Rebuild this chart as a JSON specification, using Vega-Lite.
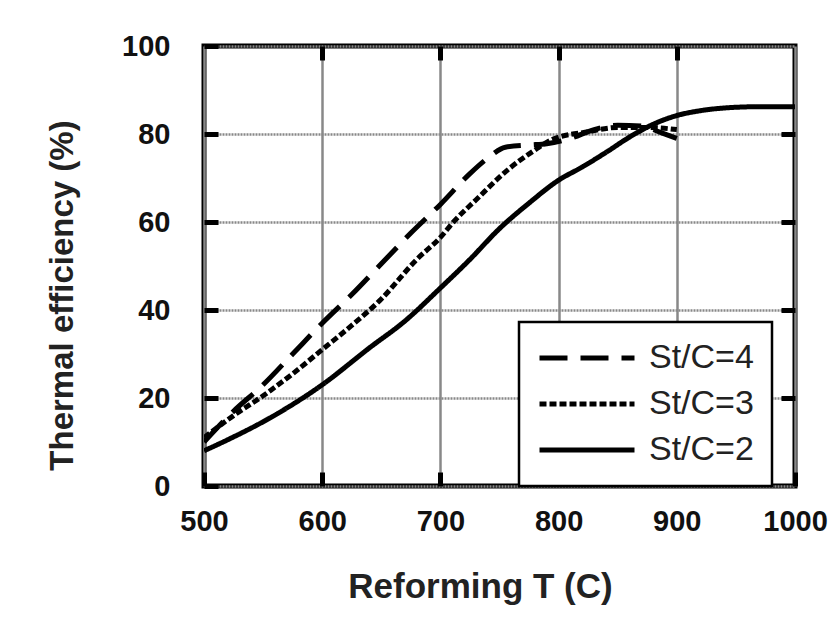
{
  "$schema": "https://vega.github.io/schema/vega-lite/v6.json",
  "width": 591,
  "height": 440,
  "autosize": {"type": "none"},
  "padding": {"left": 204, "top": 46, "right": 44, "bottom": 138},
  "background": "white",
  "data": {
    "values": [
      {"series": "St/C=4", "T": 500, "eff": 10},
      {"series": "St/C=4", "T": 525, "eff": 17},
      {"series": "St/C=4", "T": 550, "eff": 23},
      {"series": "St/C=4", "T": 575, "eff": 30},
      {"series": "St/C=4", "T": 600, "eff": 37},
      {"series": "St/C=4", "T": 625, "eff": 43.5},
      {"series": "St/C=4", "T": 650, "eff": 50.5},
      {"series": "St/C=4", "T": 675, "eff": 57.5},
      {"series": "St/C=4", "T": 700, "eff": 64},
      {"series": "St/C=4", "T": 725, "eff": 71},
      {"series": "St/C=4", "T": 740, "eff": 74.5},
      {"series": "St/C=4", "T": 755, "eff": 77},
      {"series": "St/C=4", "T": 775, "eff": 77.5},
      {"series": "St/C=4", "T": 790, "eff": 77.8},
      {"series": "St/C=4", "T": 810, "eff": 79},
      {"series": "St/C=4", "T": 830, "eff": 81},
      {"series": "St/C=4", "T": 850, "eff": 82},
      {"series": "St/C=4", "T": 870, "eff": 81.8},
      {"series": "St/C=4", "T": 885, "eff": 80.5},
      {"series": "St/C=4", "T": 900, "eff": 79},
      {"series": "St/C=3", "T": 500, "eff": 11},
      {"series": "St/C=3", "T": 525, "eff": 16},
      {"series": "St/C=3", "T": 550, "eff": 20.5},
      {"series": "St/C=3", "T": 575, "eff": 25.5},
      {"series": "St/C=3", "T": 600, "eff": 31},
      {"series": "St/C=3", "T": 625, "eff": 36.5},
      {"series": "St/C=3", "T": 650, "eff": 42.5},
      {"series": "St/C=3", "T": 680, "eff": 51.5},
      {"series": "St/C=3", "T": 700, "eff": 56.5},
      {"series": "St/C=3", "T": 711, "eff": 60},
      {"series": "St/C=3", "T": 730, "eff": 65},
      {"series": "St/C=3", "T": 759, "eff": 72.3},
      {"series": "St/C=3", "T": 778, "eff": 76},
      {"series": "St/C=3", "T": 795, "eff": 78.8},
      {"series": "St/C=3", "T": 825, "eff": 80.5},
      {"series": "St/C=3", "T": 850, "eff": 81.5},
      {"series": "St/C=3", "T": 875, "eff": 81.5},
      {"series": "St/C=3", "T": 900, "eff": 81},
      {"series": "St/C=2", "T": 500, "eff": 8},
      {"series": "St/C=2", "T": 520, "eff": 10.5},
      {"series": "St/C=2", "T": 556, "eff": 15.5},
      {"series": "St/C=2", "T": 600, "eff": 23},
      {"series": "St/C=2", "T": 640, "eff": 31.4},
      {"series": "St/C=2", "T": 670, "eff": 37.5},
      {"series": "St/C=2", "T": 700, "eff": 45},
      {"series": "St/C=2", "T": 725, "eff": 51.5},
      {"series": "St/C=2", "T": 750, "eff": 58.5},
      {"series": "St/C=2", "T": 775, "eff": 64.3},
      {"series": "St/C=2", "T": 800, "eff": 69.5},
      {"series": "St/C=2", "T": 820, "eff": 72.5},
      {"series": "St/C=2", "T": 840, "eff": 75.8},
      {"series": "St/C=2", "T": 860, "eff": 79.3},
      {"series": "St/C=2", "T": 880, "eff": 82.2},
      {"series": "St/C=2", "T": 900, "eff": 84.2},
      {"series": "St/C=2", "T": 920, "eff": 85.3},
      {"series": "St/C=2", "T": 945, "eff": 86},
      {"series": "St/C=2", "T": 970, "eff": 86.2},
      {"series": "St/C=2", "T": 1000, "eff": 86.2}
    ]
  },
  "layer": [
    {
      "mark": {"type": "line", "interpolate": "monotone", "strokeWidth": 5, "color": "black", "clip": true},
      "encoding": {
        "x": {
          "field": "T", "type": "quantitative",
          "scale": {"domain": [500, 1000], "nice": false, "zero": false},
          "axis": {
            "orient": "bottom",
            "values": [500, 600, 700, 800, 900, 1000],
            "format": "d",
            "title": "Reforming T (C)",
            "titleFont": "Liberation Sans", "titleFontSize": 35, "titleFontWeight": "bold", "titleColor": "#222",
            "titlePadding": 33, "titleX": 276,
            "labelFont": "Liberation Sans", "labelFontSize": 29, "labelFontWeight": "bold", "labelColor": "#111",
            "labelPadding": 35, "labelFlush": false, "labelOverlap": false,
            "tickSize": -14, "tickWidth": 5, "tickColor": "black",
            "domain": false,
            "grid": true, "gridColor": "#888", "gridWidth": 2.5
          }
        },
        "y": {
          "field": "eff", "type": "quantitative",
          "scale": {"domain": [0, 100], "nice": false},
          "axis": {
            "orient": "left",
            "values": [0, 20, 40, 60, 80, 100],
            "format": "d",
            "title": "Thermal efficiency (%)",
            "titleFont": "Liberation Sans", "titleFontSize": 33, "titleFontWeight": "bold", "titleColor": "#222",
            "titlePadding": 42, "titleY": 249,
            "labelFont": "Liberation Sans", "labelFontSize": 29, "labelFontWeight": "bold", "labelColor": "#111",
            "labelPadding": 48, "labelFlush": false, "labelOverlap": false,
            "tickSize": -14, "tickWidth": 5, "tickColor": "black",
            "domain": false,
            "grid": true, "gridColor": "#888", "gridWidth": 2.5, "gridDash": [2, 1]
          }
        },
        "strokeDash": {
          "field": "series", "type": "nominal",
          "scale": {"domain": ["St/C=4", "St/C=3", "St/C=2"], "range": [[28, 13], [7, 3], [1, 0]]},
          "legend": {
            "orient": "none", "legendX": 315, "legendY": 276,
            "title": null,
            "symbolType": "stroke", "symbolSize": 9025, "symbolStrokeWidth": 5, "symbolStrokeColor": "black",
            "labelFont": "Liberation Sans", "labelFontSize": 34, "labelColor": "#222", "labelOffset": 12,
            "padding": 18, "strokeColor": "black", "fillColor": "white",
            "clipHeight": 36, "rowPadding": 10,
            "encode": {"legend": {"update": {"strokeWidth": {"value": 2.5}}}}
          }
        }
      }
    },
    {
      "mark": {"type": "line", "opacity": 0},
      "encoding": {
        "x": {
          "field": "T", "type": "quantitative",
          "scale": {"domain": [500, 1000], "nice": false, "zero": false},
          "axis": {"orient": "top", "values": [600, 700, 800, 900], "labels": false, "title": null, "domain": false, "grid": false,
                   "tickSize": -14, "tickWidth": 5, "tickColor": "black"}
        },
        "y": {
          "field": "eff", "type": "quantitative",
          "scale": {"domain": [0, 100], "nice": false},
          "axis": {"orient": "right", "values": [20, 40, 60, 80], "labels": false, "title": null, "domain": false, "grid": false,
                   "tickSize": -14, "tickWidth": 5, "tickColor": "black"}
        },
        "detail": {"field": "series", "type": "nominal"}
      }
    }
  ],
  "resolve": {"axis": {"x": "independent", "y": "independent"}},
  "config": {"view": {"stroke": "black", "strokeWidth": 5}}
}
